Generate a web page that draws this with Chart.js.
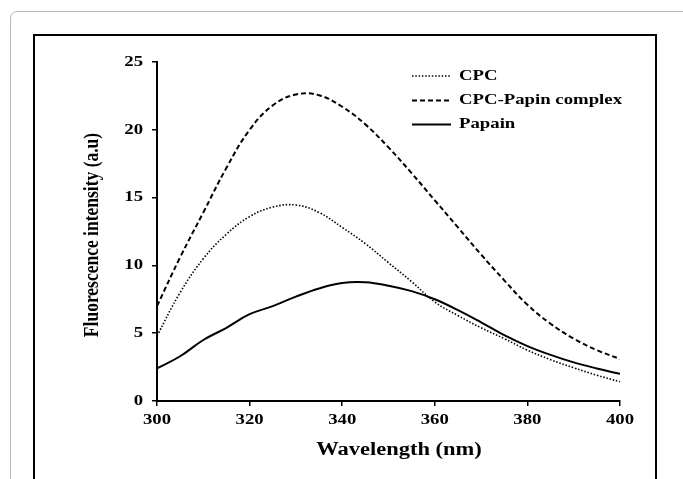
<!DOCTYPE html>
<html>
<head>
<meta charset="utf-8">
<script src="https://cdn.jsdelivr.net/npm/chart.js@4/dist/chart.umd.min.js"></script>
<style>
  html, body { margin: 0; padding: 0; background: #fff; width: 683px; height: 479px; overflow: hidden; }
  #outer { position: absolute; left: 10px; top: 11px; width: 720px; height: 520px; border: 1.5px solid #b8b8b8; border-radius: 7px; box-sizing: border-box; }
  #inner { position: absolute; left: 33px; top: 34px; width: 624px; height: 520px; border: 2px solid #000; box-sizing: border-box; }
  #c { position: absolute; left: 0; top: 0; }
</style>
</head>
<body>
<div id="outer"></div>
<div id="inner"></div>
<canvas id="c" width="683" height="479"></canvas>
<script>
// ---- data ----
const wavelengths = [300,305,310,315,320,325,330,335,340,345,350,355,360,365,370,375,380,385,390,395,400];
const cpc         = [4.8,8.0,10.5,12.3,13.6,14.3,14.45,13.9,12.8,11.6,10.2,8.8,7.3,6.3,5.4,4.6,3.75,3.05,2.45,1.9,1.42];
const cpcPapain   = [7.0,10.6,13.9,17.2,20.0,21.8,22.6,22.55,21.7,20.4,18.7,16.8,14.8,12.8,10.8,8.9,7.1,5.7,4.6,3.75,3.1];
const papain      = [2.4,3.3,4.5,5.4,6.4,7.0,7.7,8.3,8.7,8.75,8.5,8.1,7.5,6.7,5.8,4.85,4.05,3.4,2.85,2.4,2.0];
const seriesNames = ['CPC', 'CPC-Papin complex', 'Papain'];
const xTitle = 'Wavelength (nm)';
const yTitle = 'Fluorescence intensity (a.u)';

const SX = 1.25; // horizontal stretch of the text, as in the reference
const FAMILY = '"Liberation Serif", "Times New Roman", serif';
const toXY = arr => arr.map((v, i) => ({x: wavelengths[i], y: v}));

const stretchText = {
  id: 'stretchText',
  beforeDraw(chart) {
    const ctx = chart.ctx;
    if (ctx.__patched) return;
    const orig = ctx.fillText;
    ctx.__origFillText = orig;
    ctx.fillText = function(t, x, y) {
      this.save();
      this.translate(x, y);
      this.scale(SX, 1);
      orig.call(this, t, 0, 0);
      this.restore();
    };
    ctx.__patched = true;
  }
};

const overlayText = {
  id: 'overlayText',
  afterDraw(chart) {
    const ctx = chart.ctx;
    const a = chart.chartArea;
    const orig = ctx.__origFillText || ctx.fillText;
    ctx.save();
    ctx.fillStyle = '#000';
    ctx.textBaseline = 'middle';
    ctx.textAlign = 'center';
    // x axis title
    ctx.font = 'bold 18px ' + FAMILY;
    ctx.save();
    ctx.translate((a.left + a.right) / 2 + 10.5, a.bottom + 49);
    ctx.scale(SX, 1);
    orig.call(ctx, xTitle, 0, 0);
    ctx.restore();
    // y axis title (rotated; stretched across its thickness)
    ctx.font = 'bold 17.5px ' + FAMILY;
    ctx.save();
    ctx.translate(a.left - 65, (a.top + a.bottom) / 2 + 3.5);
    ctx.rotate(-Math.PI / 2);
    ctx.scale(1, SX);
    orig.call(ctx, yTitle, 0, 0);
    ctx.restore();
    // legend
    const rows = [76, 100.5, 124.5];
    chart.data.datasets.forEach((ds, i) => {
      ctx.beginPath();
      ctx.setLineDash(ds.borderDash || []);
      ctx.lineWidth = ds.borderWidth;
      ctx.strokeStyle = ds.borderColor;
      ctx.moveTo(412, rows[i]);
      ctx.lineTo(451, rows[i]);
      ctx.stroke();
      ctx.setLineDash([]);
      ctx.font = 'bold 15px ' + FAMILY;
      ctx.textAlign = 'left';
      ctx.save();
      ctx.translate(459, rows[i]);
      ctx.scale(SX, 1);
      orig.call(ctx, ds.label, 0, 0);
      ctx.restore();
    });
    ctx.restore();
  }
};

const tickFont = {family: FAMILY, weight: 'bold', size: 15};

new Chart(document.getElementById('c'), {
  type: 'line',
  data: {
    datasets: [
      { label: seriesNames[0], data: toXY(cpc), borderColor: '#000', borderWidth: 1.6, borderDash: [1.5, 1.8] },
      { label: seriesNames[1], data: toXY(cpcPapain), borderColor: '#000', borderWidth: 2, borderDash: [5, 3] },
      { label: seriesNames[2], data: toXY(papain), borderColor: '#000', borderWidth: 2 }
    ]
  },
  options: {
    responsive: false,
    animation: false,
    devicePixelRatio: 1,
    layout: { padding: { top: 62, right: 63, bottom: 0, left: 0 } },
    elements: { point: { radius: 0 }, line: { tension: 0.4, fill: false } },
    plugins: { legend: { display: false }, tooltip: { enabled: false } },
    scales: {
      x: {
        type: 'linear', min: 300, max: 400,
        ticks: { stepSize: 20, color: '#000', font: tickFont, padding: 5, maxRotation: 0, autoSkip: false },
        grid: { display: true, drawOnChartArea: false, drawTicks: true, tickLength: 5, color: '#000', lineWidth: 1.5 },
        border: { display: true, color: '#000', width: 2 },
        title: { display: false, text: xTitle },
        afterFit(scale) { scale.height = 78; }
      },
      y: {
        min: 0, max: 25,
        ticks: { stepSize: 5, color: '#000', font: tickFont, padding: 9 },
        grid: { display: true, drawOnChartArea: false, drawTicks: true, tickLength: 5, color: '#000', lineWidth: 1.5 },
        border: { display: true, color: '#000', width: 2 },
        title: { display: false, text: yTitle },
        afterFit(scale) { scale.width = 157; }
      }
    }
  },
  plugins: [stretchText, overlayText]
});
</script>
</body>
</html>
